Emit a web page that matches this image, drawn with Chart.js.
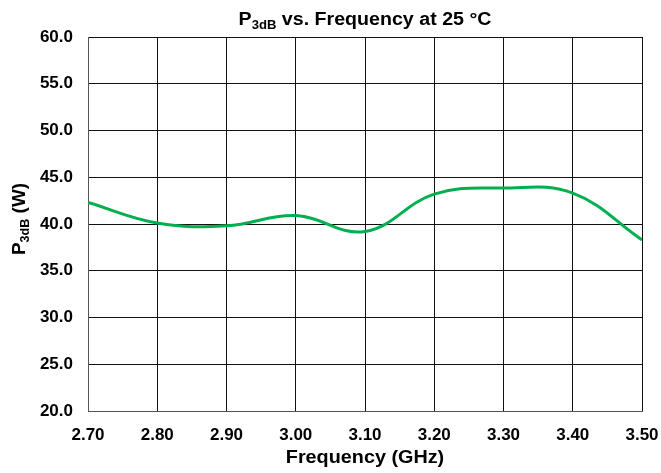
<!DOCTYPE html>
<html>
<head>
<meta charset="utf-8">
<script src="https://cdn.jsdelivr.net/npm/chart.js@4"></script>
<style>
  html, body { margin: 0; padding: 0; background: #fff; }
  #wrap { width: 661px; height: 473px; }
</style>
</head>
<body>
<div id="wrap"><canvas id="p3dbChart" width="661" height="473"></canvas></div>
<script>
// frequency in GHz, P3dB in W
const freqs = [2.70, 2.80, 2.90, 3.00, 3.10, 3.20, 3.30, 3.40, 3.50];
const p3db = [42.3, 40.1, 39.8, 40.9, 39.2, 43.2, 43.85, 43.3, 38.3];
const yTicks = [20, 25, 30, 35, 40, 45, 50, 55, 60];

const FONT = '"Liberation Sans", Arial, sans-serif';

// titles have a subscript (and are a bit wider than plain Arial), drawn by hand
const handTitles = {
    id: 'handTitles',
    afterDraw(chart) {
        const ctx = chart.ctx;
        const area = chart.chartArea;
        const midX = (area.left + area.right) / 2;

        function drawParts(parts, x, y, stretch) {
            ctx.save();
            ctx.translate(x, y);
            ctx.scale(stretch, 1);
            let w = 0;
            parts.forEach(p => {
                ctx.font = 'bold ' + p.size + 'px ' + FONT;
                w += ctx.measureText(p.text).width;
            });
            let cx = -w / 2;
            parts.forEach(p => {
                ctx.font = 'bold ' + p.size + 'px ' + FONT;
                ctx.fillText(p.text, cx, p.dy || 0);
                cx += ctx.measureText(p.text).width;
            });
            ctx.restore();
        }

        ctx.save();
        ctx.fillStyle = '#000';
        ctx.textBaseline = 'alphabetic';
        ctx.textAlign = 'left';

        drawParts([
            { text: 'P', size: 18 },
            { text: '3dB', size: 12, dy: 4 },
            { text: ' vs. Frequency at 25 °C', size: 18 }
        ], midX, 25, 1.09);

        drawParts([{ text: 'Frequency (GHz)', size: 18 }], midX, 463, 1.1);

        ctx.translate(25, 219);
        ctx.rotate(-Math.PI / 2);
        drawParts([
            { text: 'P', size: 18 },
            { text: '3dB', size: 12, dy: 4 },
            { text: ' (W)', size: 18 }
        ], 0, 0, 1.05);
        ctx.restore();
    }
};

const ctx = document.getElementById('p3dbChart').getContext('2d');

new Chart(ctx, {
    type: 'line',
    data: {
        datasets: [{
            label: 'P3dB',
            data: freqs.map((f, i) => ({ x: f, y: p3db[i] })),
            borderColor: '#00B050',
            borderWidth: 3,
            pointRadius: 0,
            tension: 0.4,
            fill: false
        }]
    },
    options: {
        responsive: false,
        animation: false,
        layout: { padding: { left: 0, top: 37, right: 19, bottom: 0 } },
        plugins: {
            legend: { display: false },
            title: { display: false },
            tooltip: { enabled: false }
        },
        scales: {
            x: {
                type: 'linear',
                min: 2.7,
                max: 3.5,
                afterBuildTicks: scale => {
                    scale.ticks = freqs.map(v => ({ value: v }));
                },
                afterFit: scale => {
                    scale.height = 62;
                    scale.paddingLeft = 0;
                    scale.paddingRight = 0;
                },
                grid: { color: '#111', lineWidth: 1, drawTicks: false },
                border: { color: '#555', width: 1 },
                ticks: {
                    padding: 14,
                    color: '#000',
                    font: { family: FONT, size: 17, weight: 'bold' },
                    callback: v => Number(v).toFixed(2)
                }
            },
            y: {
                min: 20,
                max: 60,
                afterBuildTicks: scale => {
                    scale.ticks = yTicks.map(v => ({ value: v }));
                },
                afterFit: scale => {
                    scale.width = 88;
                    scale.paddingTop = 0;
                    scale.paddingBottom = 0;
                },
                grid: { color: '#111', lineWidth: 1, drawTicks: false },
                border: { color: '#555', width: 1 },
                ticks: {
                    padding: 15,
                    color: '#000',
                    font: { family: FONT, size: 17, weight: 'bold' },
                    callback: v => Number(v).toFixed(1)
                }
            }
        }
    },
    plugins: [handTitles]
});
</script>
</body>
</html>
